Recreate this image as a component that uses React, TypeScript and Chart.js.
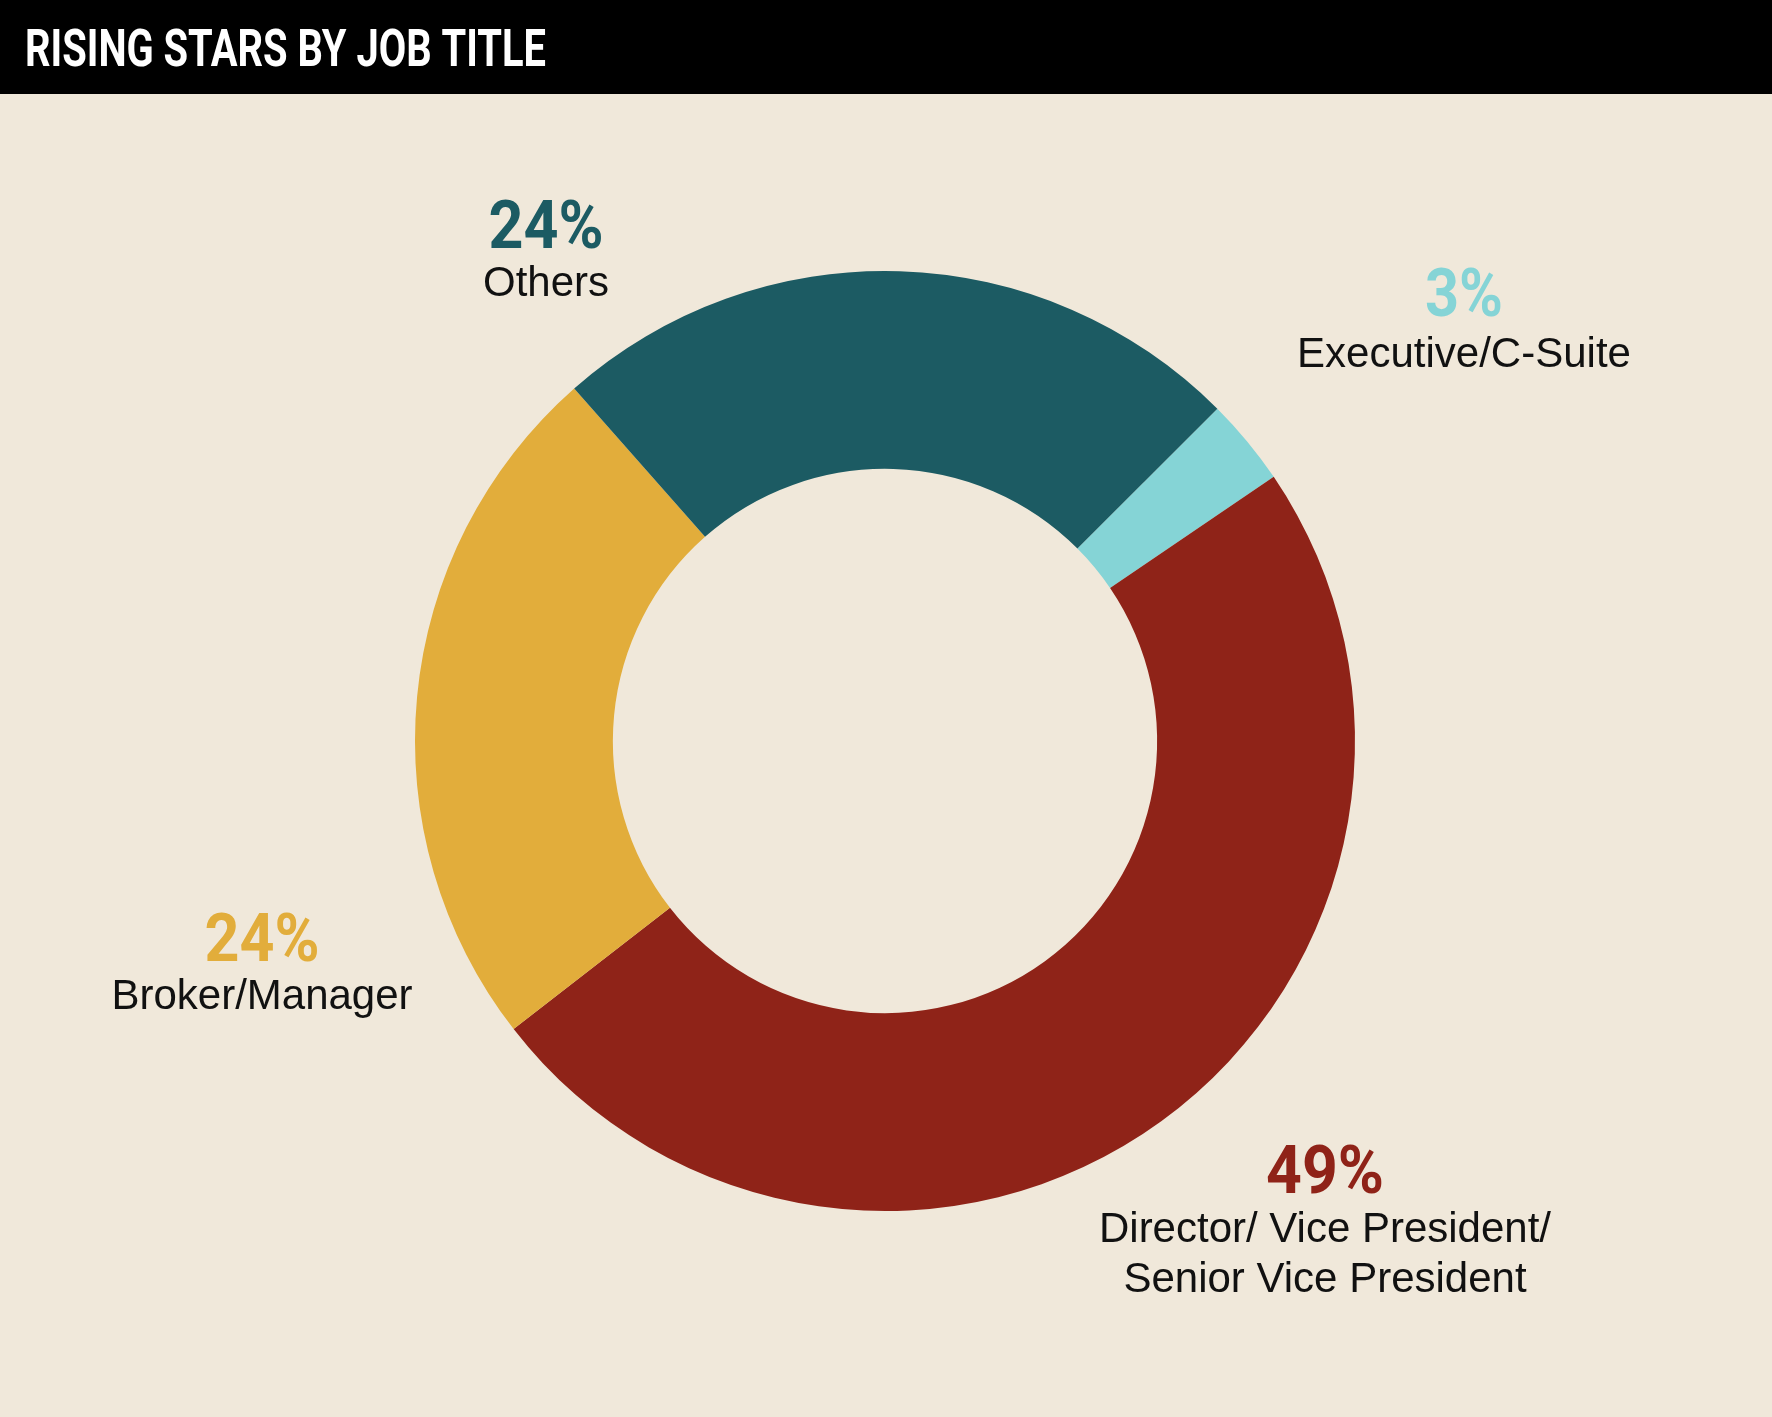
import React, { useEffect, useRef } from "react";
import { Chart, registerables } from "chart.js";

Chart.register(...registerables);

// ---- data ----
const title = "RISING STARS BY JOB TITLE";
const categories = [
  "Executive/C-Suite",
  "Director/ Vice President/ Senior Vice President",
  "Broker/Manager",
  "Others",
];
const shares = [3, 49, 24, 24];
const pctLabels = ["3%", "49%", "24%", "24%"];
const nameLines = [
  ["Executive/C-Suite"],
  ["Director/ Vice President/", "Senior Vice President"],
  ["Broker/Manager"],
  ["Others"],
];
const colors = ["#85D4D6", "#8F2318", "#E2AD3B", "#1C5B63"];

// ---- layout (label anchors, page coordinates) ----
const labelLayout = [
  { x: 1464, pctY: 316, nameY: 367, pctW: 78 },
  { x: 1325, pctY: 1193, nameY: 1242, pctW: 118 },
  { x: 262, pctY: 961, nameY: 1009, pctW: 115 },
  { x: 546, pctY: 248, nameY: 296, pctW: 115 },
];
const W = 1772;
const H = 1417;
const BG = "#F0E8DA";
const BAND_H = 94;
const BOLD_FONT = 'Roboto, "Liberation Sans", sans-serif';
const REG_FONT = '"Liberation Sans", Arial, sans-serif';

function drawScaled(
  ctx: CanvasRenderingContext2D,
  text: string,
  x: number,
  y: number,
  targetW: number,
  align: "left" | "center"
) {
  ctx.textAlign = "left";
  const m = ctx.measureText(text).width;
  const s = targetW / m;
  ctx.save();
  ctx.translate(x, y);
  ctx.scale(s, 1);
  ctx.textAlign = align;
  ctx.fillText(text, 0, 0);
  ctx.restore();
}

const decorPlugin = {
  id: "decor",
  beforeDraw(chart: any) {
    const ctx: CanvasRenderingContext2D = chart.ctx;
    ctx.save();
    ctx.fillStyle = BG;
    ctx.fillRect(0, 0, W, H);
    ctx.fillStyle = "#000000";
    ctx.fillRect(0, 0, W, BAND_H);
    ctx.fillStyle = "#FFFFFF";
    ctx.font = `700 52px ${BOLD_FONT}`;
    ctx.textBaseline = "alphabetic";
    drawScaled(ctx, title, 25, 66, 521, "left");
    ctx.restore();
  },
  afterDraw(chart: any) {
    const ctx: CanvasRenderingContext2D = chart.ctx;
    ctx.save();
    ctx.textBaseline = "alphabetic";
    labelLayout.forEach((l, i) => {
      ctx.fillStyle = colors[i];
      ctx.font = `700 67px ${BOLD_FONT}`;
      drawScaled(ctx, pctLabels[i], l.x, l.pctY, l.pctW, "center");
      ctx.fillStyle = "#111111";
      ctx.font = `42px ${REG_FONT}`;
      ctx.textAlign = "center";
      nameLines[i].forEach((line, j) => {
        ctx.fillText(line, l.x, l.nameY + j * 50);
      });
    });
    ctx.restore();
  },
};

export default function App() {
  const ref = useRef<HTMLCanvasElement | null>(null);

  useEffect(() => {
    document.body.style.margin = "0";
    const canvas = ref.current;
    if (!canvas) return;
    const chart = new Chart(canvas, {
      type: "doughnut",
      data: {
        labels: categories,
        datasets: [
          {
            data: shares,
            backgroundColor: colors,
            borderWidth: 0,
            hoverOffset: 0,
          },
        ],
      },
      options: {
        responsive: false,
        devicePixelRatio: 1,
        animation: false,
        rotation: 45,
        cutout: "57.9%",
        layout: { padding: { left: 415, right: 417, top: 271, bottom: 206 } },
        plugins: {
          legend: { display: false },
          tooltip: { enabled: false },
          title: { display: false },
        },
        events: [],
      },
      plugins: [decorPlugin],
    });
    return () => chart.destroy();
  }, []);

  return (
    <div style={{ position: "absolute", left: 0, top: 0, width: W, height: H }}>
      <canvas ref={ref} width={W} height={H} style={{ width: W, height: H, display: "block" }} />
    </div>
  );
}
